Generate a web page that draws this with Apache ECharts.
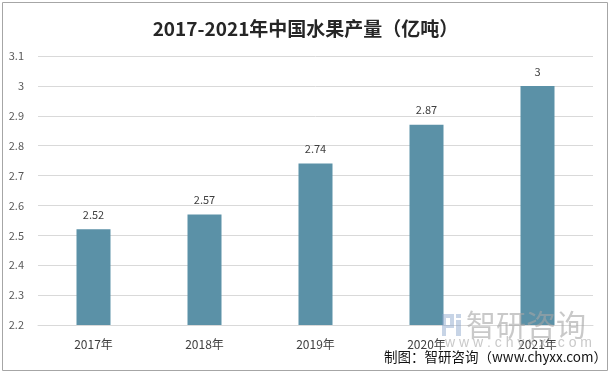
<!DOCTYPE html>
<html><head><meta charset="utf-8">
<script src="https://cdn.jsdelivr.net/npm/echarts@6/dist/echarts.min.js"></script>
<style>html,body{margin:0;padding:0;background:#fff}#c{width:611px;height:374px}</style>
</head><body><div id="c"></div>
<script>
const categories = ['2017年','2018年','2019年','2020年','2021年'];
const values = [2.52, 2.57, 2.74, 2.87, 3];
const yTicks = [2.2, 2.3, 2.4, 2.5, 2.6, 2.7, 2.8, 2.9, 3, 3.1];
const titleText = '2017-2021年中国水果产量（亿吨）';
const sourceText = '制图：智研咨询（www.chyxx.com）';

const chart = echarts.init(document.getElementById('c'), null, {renderer:'canvas'});
const font = '"Microsoft YaHei","Noto Sans CJK SC",sans-serif';
const wm = 'rgba(165,165,165,0.6)';
const logo = 'rgba(130,160,200,0.45)';
chart.setOption({
  animation:false,
  backgroundColor:'#fff',
  title:{text:titleText,left:'center',top:14,
    textStyle:{fontSize:19,fontWeight:'bold',color:'#262626',fontFamily:font}},
  grid:{left:38,right:18,top:56,bottom:49},
  xAxis:{type:'category',data:categories,
    axisLine:{lineStyle:{color:'#d9d9d9'}},axisTick:{show:false},
    axisLabel:{color:'#404040',fontSize:12,margin:13,fontFamily:font}},
  yAxis:{type:'value',min:yTicks[0],max:yTicks[yTicks.length-1],interval:0.1,
    axisLine:{show:false},axisTick:{show:false},
    splitLine:{lineStyle:{color:'#d9d9d9'}},
    axisLabel:{color:'#595959',fontSize:11,margin:14,fontFamily:font,
      formatter:v=>String(Math.round(v*10)/10)}},
  series:[{type:'bar',data:values,barWidth:34,
    itemStyle:{color:'#5b91a7'},
    label:{show:true,position:'top',distance:9,color:'#404040',fontSize:11,fontFamily:font}}],
  graphic:[
    {type:'rect',shape:{x:2.5,y:2.5,width:605,height:368},style:{fill:'none',stroke:'#a6a6a6',lineWidth:1},z:-1,silent:true},
    {type:'rect',shape:{x:442,y:314,width:4,height:22},style:{fill:logo},z:100},
    {type:'rect',shape:{x:446,y:314,width:8,height:4},style:{fill:logo},z:100},
    {type:'rect',shape:{x:450,y:318,width:4,height:7},style:{fill:logo},z:100},
    {type:'rect',shape:{x:446,y:325,width:8,height:3},style:{fill:logo},z:100},
    {type:'rect',shape:{x:456,y:314,width:5,height:4},style:{fill:logo},z:100},
    {type:'rect',shape:{x:456,y:320,width:5,height:16},style:{fill:logo},z:100},
    {type:'text',left:466,top:310,style:{text:'智研咨询',font:'30px '+font,fill:wm},z:100},
    {type:'text',left:445,top:336,style:{text:'w w w . c h y x x . c o m',font:'14px sans-serif',fill:wm},z:100},
    {type:'text',right:4,top:350,style:{text:sourceText,font:'13.5px '+font,fill:'#111'},z:110}
  ]
});
</script></body></html>
